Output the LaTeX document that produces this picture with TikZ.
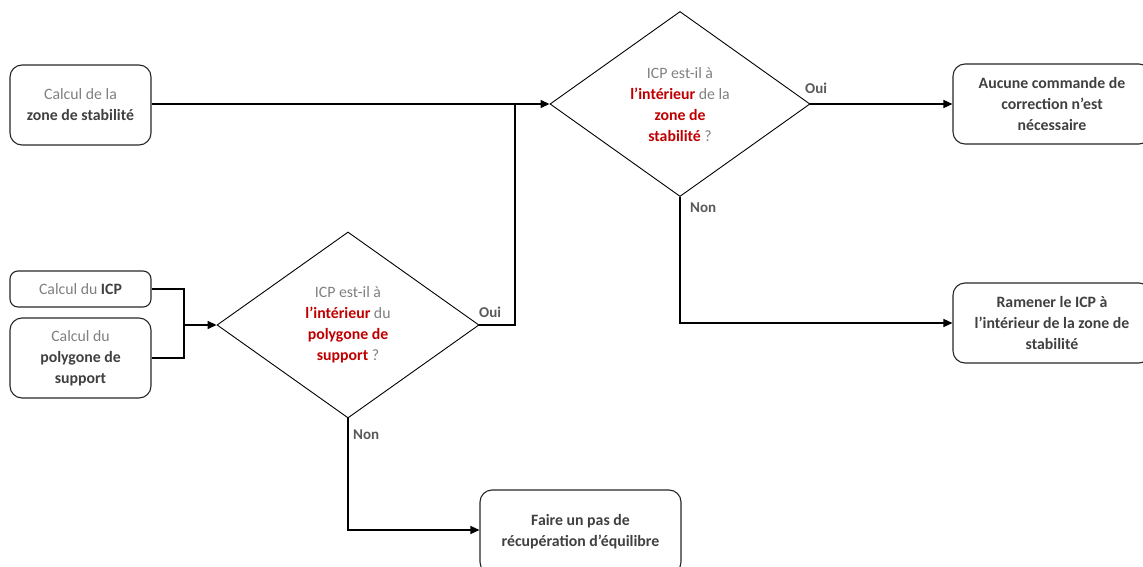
\documentclass[tikz,border=0pt]{standalone}
\usepackage{fontspec}
\setmainfont{Carlito}
\usetikzlibrary{shapes.geometric,arrows.meta}
\definecolor{txtgray}{HTML}{808080}
\definecolor{txtdark}{HTML}{404040}
\definecolor{txtred}{HTML}{C00000}
\definecolor{lblgray}{HTML}{595959}
\newcommand{\gr}[1]{\textcolor{txtgray}{#1}}
\newcommand{\dk}[1]{\textcolor{txtdark}{\bfseries #1}}
\newcommand{\rd}[1]{\textcolor{txtred}{\bfseries #1}}
\tikzset{
  box/.style={draw=black!85, line width=1.1pt, rounded corners=12pt, align=center, inner sep=0pt,
    font=\fontsize{15.8}{21}\selectfont},
  dia/.style={draw=black, line width=0.9pt, diamond, inner sep=0pt, align=center,
    font=\fontsize{15.8}{21}\selectfont},
  conn/.style={line width=1.4pt, black},
  arr/.style={conn, -{Triangle[length=9pt,width=8pt]}},
  lbl/.style={text=lblgray, font=\fontsize{15}{17}\selectfont\bfseries, inner sep=0pt},
}
\begin{document}
\begin{tikzpicture}[x=1pt,y=-1pt]
\useasboundingbox (0,0) rectangle (1143,567);
% boxes
\node[box, minimum width=141pt, minimum height=80pt] (zone) at (80.5,105) {\gr{Calcul de la}\\\dk{zone de stabilité}};
\node[box, minimum width=141pt, minimum height=36pt, rounded corners=8pt] (icp) at (80.5,289) {\gr{Calcul du} \dk{ICP}};
\node[box, minimum width=141pt, minimum height=80pt] (poly) at (80.5,358) {\gr{Calcul du}\\\dk{polygone de}\\\dk{support}};
\node[box, minimum width=198pt, minimum height=80pt, text=txtdark, font=\fontsize{15.8}{21}\selectfont\bfseries] (aucune) at (1052,104) {Aucune commande de\\correction n’est\\nécessaire};
\node[box, minimum width=198pt, minimum height=80pt, text=txtdark, font=\fontsize{15.8}{21}\selectfont\bfseries] (ramener) at (1052,323) {Ramener le ICP à\\l’intérieur de la zone de\\stabilité};
\node[box, minimum width=201pt, minimum height=84pt, text=txtdark, font=\fontsize{15.8}{21}\selectfont\bfseries] (faire) at (580.5,532) {Faire un pas de\\récupération d’équilibre};
% diamonds
\node[dia, minimum width=260pt, minimum height=185pt] (d1) at (680,104) {};
\node[align=center, font=\fontsize{15.8}{21}\selectfont, inner sep=0pt] (t1) at (680,105) {\gr{ICP est-il à}\\\rd{l’intérieur} \gr{de la}\\\rd{zone de}\\\rd{stabilité} \gr{?}};
\node[dia, minimum width=262pt, minimum height=186pt] (d2) at (348,325) {};
\node[align=center, font=\fontsize{15.8}{21}\selectfont, inner sep=0pt] (t2) at (348,325) {\gr{ICP est-il à}\\\rd{l’intérieur} \gr{du}\\\rd{polygone de}\\\rd{support} \gr{?}};
% junctions
\coordinate (j1) at (515,104);
\coordinate (j2) at (184,325);
% connectors
\draw[arr] (zone.east |- j1) -- (d1.west);
\draw[conn] (d2.east) -| (j1);
\draw[arr] (d1.east) -- (aucune.west |- d1.east);
\draw[arr] (d1.south) |- (ramener.west);
\draw[conn] (icp.east) -| (j2);
\draw[conn] (poly.east) -| (j2);
\draw[arr] (j2) -- (d2.west);
\draw[arr] (d2.south) |- (faire.west |- 0,530);
% labels
\node[lbl, anchor=west] (oui1) at (805,88) {Oui};
\node[lbl, anchor=west] (non1) at (690,208) {Non};
\node[lbl, anchor=west] (oui2) at (479,312) {Oui};
\node[lbl, anchor=west] (non2) at (353,435) {Non};
\end{tikzpicture}
\end{document}
